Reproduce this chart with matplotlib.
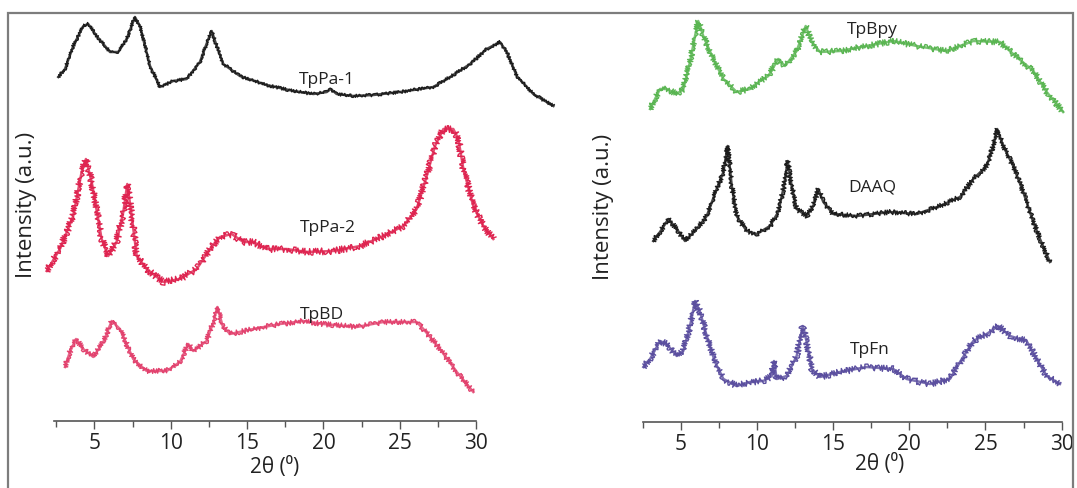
import matplotlib
matplotlib.use("Agg")
import matplotlib.pyplot as plt
from matplotlib.patches import Rectangle
from matplotlib.ticker import FixedLocator

plt.rcParams['font.family'] = ['Open Sans', 'DejaVu Sans']

# ---- left panel: TpPa-1, TpPa-2, TpBD (2theta in degrees, stacked intensity) ----
tppa1_x = [2.63, 3.07, 3.61, 4.27, 4.59, 5.14, 6.02, 6.56, 7.11, 7.65, 7.98, 8.64, 9.29,
           10.16, 11.04, 11.91, 12.46, 12.68, 13.01, 13.44, 14.53, 16.28, 18.03, 19.34,
           20.22, 20.48, 20.87, 21.96, 23.27, 25.02, 27.20, 28.30, 29.61, 30.70, 31.57,
           32.01, 32.67, 33.75, 35.07]
tppa1_y = [344, 352, 375, 395, 397, 385, 369, 369, 382, 404, 395, 355, 334,
           340, 342, 359, 382, 390, 375, 357, 345, 336, 330, 327,
           329, 332, 327, 325, 326, 329, 334, 344, 357, 372, 379,
           369, 345, 327, 315]

tppa2_x = [1.87, 2.74, 3.61, 4.16, 4.44, 4.82, 5.47, 5.90, 6.45, 6.89, 7.15, 7.44, 7.77,
           8.42, 9.51, 10.60, 11.70, 12.57, 13.22, 13.99, 14.75, 15.41, 16.28, 17.59,
           18.91, 20.65, 22.40, 23.93, 25.24, 26.11, 26.77, 27.31, 27.86, 28.51, 28.84,
           29.17, 29.82, 30.48, 31.13]
tppa2_y = [150, 172, 205, 249, 262, 239, 182, 165, 179, 209, 237, 205, 165,
           152, 139, 142, 152, 172, 184, 187, 179, 179, 172, 172,
           169, 170, 175, 185, 195, 212, 245, 275, 292, 292, 282,
           252, 215, 195, 182]

tpbd_x = [3.07, 3.39, 3.79, 4.27, 4.92, 5.58, 6.13, 6.67, 7.54, 8.42, 9.73, 10.60, 11.15,
          11.47, 12.35, 12.79, 13.05, 13.40, 13.88, 15.41, 17.16, 18.68, 19.99, 22.18,
          23.93, 26.11, 26.55, 27.64, 28.74, 29.82]
tpbd_y = [54, 69, 82, 72, 64, 79, 100, 92, 62, 50, 50, 59, 77,
          70, 80, 99, 114, 95, 87, 92, 97, 100, 97, 94,
          99, 99, 92, 72, 49, 29]

# ---- right panel: TpBpy, DAAQ, TpFn ----
tpbpy_x = [2.99, 3.64, 4.08, 4.74, 5.17, 5.61, 5.94, 6.15, 6.48, 7.14, 7.80, 8.67, 9.55,
           10.20, 10.75, 11.40, 11.84, 12.61, 13.20, 13.60, 14.14, 15.45, 17.20, 18.95,
           20.49, 22.45, 24.20, 25.95, 26.82, 28.14, 29.02, 30.10]
tpbpy_y = [313, 333, 333, 328, 333, 360, 386, 401, 386, 363, 343, 330, 333,
           341, 346, 363, 356, 371, 396, 380, 370, 371, 376, 381,
           376, 371, 381, 380, 368, 351, 330, 310]

daaq_x = [3.20, 3.64, 4.19, 4.74, 5.28, 6.05, 6.71, 7.36, 7.80, 8.08, 8.35, 8.67, 9.33,
          9.99, 10.86, 11.40, 11.78, 12.02, 12.28, 12.61, 13.27, 13.70, 14.03, 14.36,
          15.01, 16.55, 18.73, 20.49, 22.01, 23.33, 24.20, 25.08, 25.51, 25.77, 26.17,
          26.82, 27.48, 27.70, 28.14, 28.58, 29.23]
daaq_y = [181, 190, 203, 193, 181, 193, 206, 233, 250, 276, 236, 206, 191,
          188, 196, 210, 236, 261, 236, 213, 206, 216, 233, 220,
          208, 206, 210, 208, 216, 225, 243, 256, 276, 293, 276,
          256, 230, 220, 200, 183, 160]

tpfn_x = [2.55, 2.99, 3.64, 4.08, 4.74, 5.17, 5.61, 5.94, 6.27, 6.71, 7.25, 7.80, 8.67,
          9.55, 10.42, 10.97, 11.12, 11.30, 11.96, 12.61, 13.01, 13.27, 13.60, 14.14,
          15.45, 17.20, 18.95, 19.83, 21.36, 22.67, 23.33, 24.20, 25.08, 25.84, 26.61,
          27.70, 28.36, 29.02, 29.89]
tpfn_y = [55, 63, 81, 78, 66, 71, 96, 121, 110, 86, 60, 43, 36,
          40, 41, 46, 61, 43, 46, 66, 96, 80, 53, 45,
          50, 55, 53, 43, 38, 43, 60, 81, 88, 96, 86,
          81, 63, 46, 38]

ticks = [5, 10, 15, 20, 25, 30]
minor_ticks = [2.5, 7.5, 12.5, 17.5, 22.5, 27.5]

W, H = 1077, 489
fig = plt.figure(figsize=(W / 100, H / 100), dpi=100)

# outer grey frame (open at the bottom edge)
fig.add_artist(Rectangle((8 / W, -0.05), (1073 - 8) / W, 1 - 14 / H + 0.05,
                         transform=fig.transFigure, fill=False,
                         ec='#7d7d7d', lw=1.6))


def make_axes(left, right, bottom, top, xlim, spine_lo):
    ax = fig.add_axes([left / W, 1 - bottom / H, (right - left) / W, (bottom - top) / H])
    ax.set_xlim(*xlim)
    ax.set_ylim(0, bottom - top)
    for s in ['top', 'right', 'left']:
        ax.spines[s].set_visible(False)
    ax.spines['bottom'].set_bounds(spine_lo, 30)
    ax.spines['bottom'].set_color('#555555')
    ax.spines['bottom'].set_linewidth(1.2)
    ax.set_yticks([])
    ax.set_xticks(ticks)
    ax.xaxis.set_minor_locator(FixedLocator(minor_ticks))
    ax.tick_params(axis='x', which='major', direction='out', length=6, width=1,
                   color='#555555', labelsize=15, pad=2, labelcolor='#222222')
    ax.tick_params(axis='x', which='minor', direction='out', length=4, width=1,
                   color='#555555')
    ax.patch.set_alpha(0)
    return ax


def trace(ax, x, y, color, fuzz):
    # a jittered stroke over a plain one imitates the counting noise of the scans
    ax.plot(x, y, color=color, lw=1.8, alpha=0.8, clip_on=False, solid_joinstyle='round')
    noisy, = ax.plot(x, y, color=color, lw=1.0, clip_on=False)
    noisy.set_sketch_params(scale=fuzz, length=1.2, randomness=3)


ax1 = make_axes(45, 560, 422, 14, (1.76, 35.5), 2.32)
trace(ax1, tppa1_x, tppa1_y, '#1c1c1c', 1.6)
trace(ax1, tppa2_x, tppa2_y, '#de2450', 3.4)
trace(ax1, tpbd_x, tpbd_y, '#e2426e', 2.6)
ax1.text(20.2, 342, 'TpPa-1', ha='center', va='center', fontsize=12.5, color='#222222')
ax1.text(20.3, 194, 'TpPa-2', ha='center', va='center', fontsize=12.5, color='#222222')
ax1.text(19.9, 107, 'TpBD', ha='center', va='center', fontsize=12.5, color='#222222')

ax2 = make_axes(635, 1072, 423, 14, (2.0, 30.68), 2.51)
trace(ax2, tpbpy_x, tpbpy_y, '#5ab552', 3.0)
trace(ax2, daaq_x, daaq_y, '#1c1c1c', 2.4)
trace(ax2, tpfn_x, tpfn_y, '#5b4f9f', 3.2)
ax2.text(17.6, 393, 'TpBpy', ha='center', va='center', fontsize=12.5, color='#222222')
ax2.text(17.6, 235, 'DAAQ', ha='center', va='center', fontsize=12.5, color='#222222')
ax2.text(17.4, 73, 'TpFn', ha='center', va='center', fontsize=12.5, color='#222222')

# axis titles
fig.text(275 / W, 1 - 468 / H, '2θ (⁰)', ha='center', va='center', fontsize=15,
         color='#222222')
fig.text(880 / W, 1 - 465 / H, '2θ (⁰)', ha='center', va='center', fontsize=15,
         color='#222222')
fig.text(27 / W, 1 - 205 / H, 'Intensity (a.u.)', rotation=90, ha='center', va='center',
         fontsize=16, color='#222222')
fig.text(603 / W, 1 - 207 / H, 'Intensity (a.u.)', rotation=90, ha='center', va='center',
         fontsize=16, color='#222222')

fig.savefig('out.png', dpi=100, facecolor='white')
